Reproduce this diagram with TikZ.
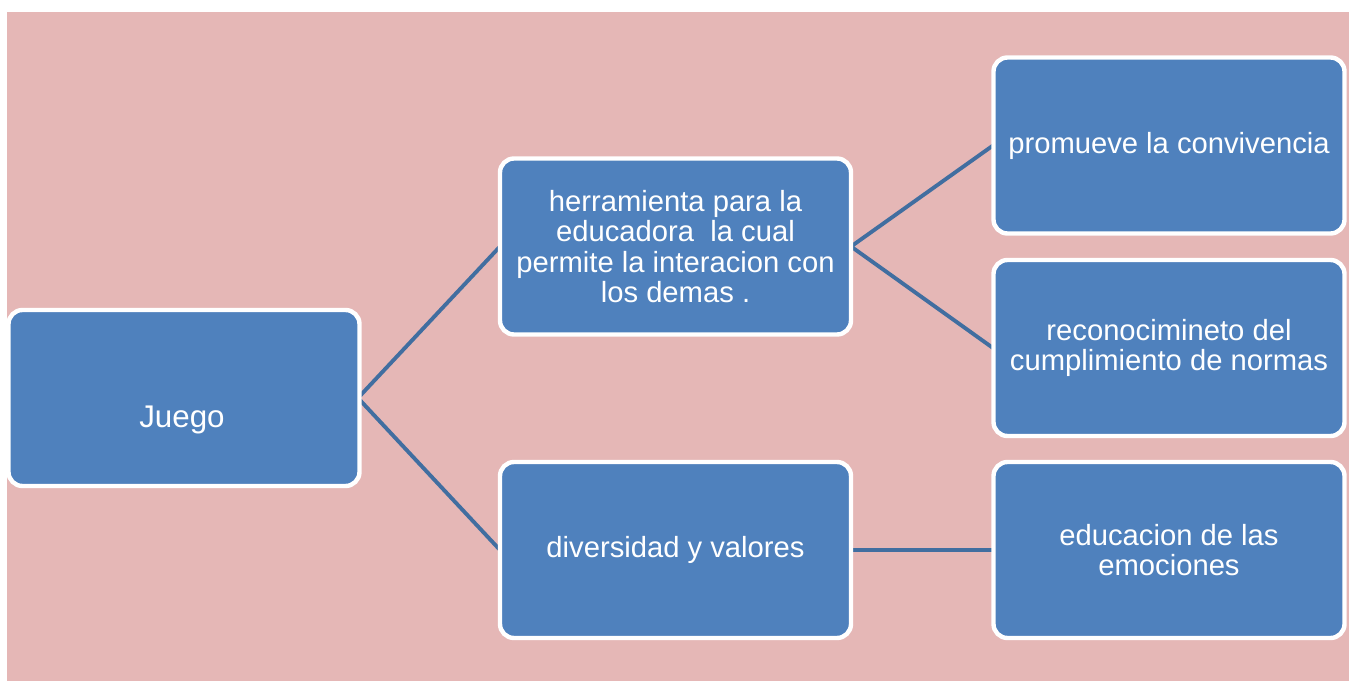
\documentclass[tikz,border=0pt]{standalone}
\usepackage{fontspec}
\setmainfont{Liberation Sans}
\definecolor{bgpink}{RGB}{229,183,182}
\definecolor{boxblue}{RGB}{79,129,189}
\definecolor{linkblue}{RGB}{65,110,160}
\begin{document}
\begin{tikzpicture}[x=0.75pt,y=-0.75pt,
  box/.style={draw=white, line width=3.3pt, fill=boxblue, rounded corners=10.5pt,
    minimum width=263.25pt, minimum height=132pt, inner sep=0pt,
    text=white, align=center, font=\fontsize{21.9}{22.9}\selectfont},
  boxtext/.style={text=white, inner sep=0pt, font=\fontsize{23.5}{24.5}\selectfont},
  link/.style={draw=linkblue, line width=2.9pt}]
\useasboundingbox (0,0) rectangle (1349,681);
\fill[bgpink] (7,12) rectangle (1349,681);
% coordinates of connector ends
\coordinate (jR) at (358,398);
\coordinate (hL) at (500,246.5);
\coordinate (hR) at (851,246.5);
\coordinate (dL) at (500,550);
\coordinate (dR) at (851,550);
\coordinate (pL) at (993,145.5);
\coordinate (rL) at (993,348);
\coordinate (eL) at (993,550);
\draw[link] (hL) -- (jR) -- (dL);
\draw[link] (pL) -- (hR) -- (rL);
\draw[link] (dR) -- (eL);
% boxes
\node[box] (juego) at (184,398) {};
\node[boxtext, anchor=base] (juegotxt) at (182,427) {Juego};
\node[box] (herr) at (675.5,246.5) {herramienta para la\\educadora\ \ la cual\\permite la interacion con\\los demas .};
\node[box] (div) at (675.5,550) {diversidad y valores};
\node[box] (prom) at (1169,145.5) {promueve la convivencia};
\node[box] (reco) at (1169,348) {reconocimineto del\\cumplimiento de normas};
\node[box] (educ) at (1169,550) {educacion de las\\emociones};
\end{tikzpicture}
\end{document}
